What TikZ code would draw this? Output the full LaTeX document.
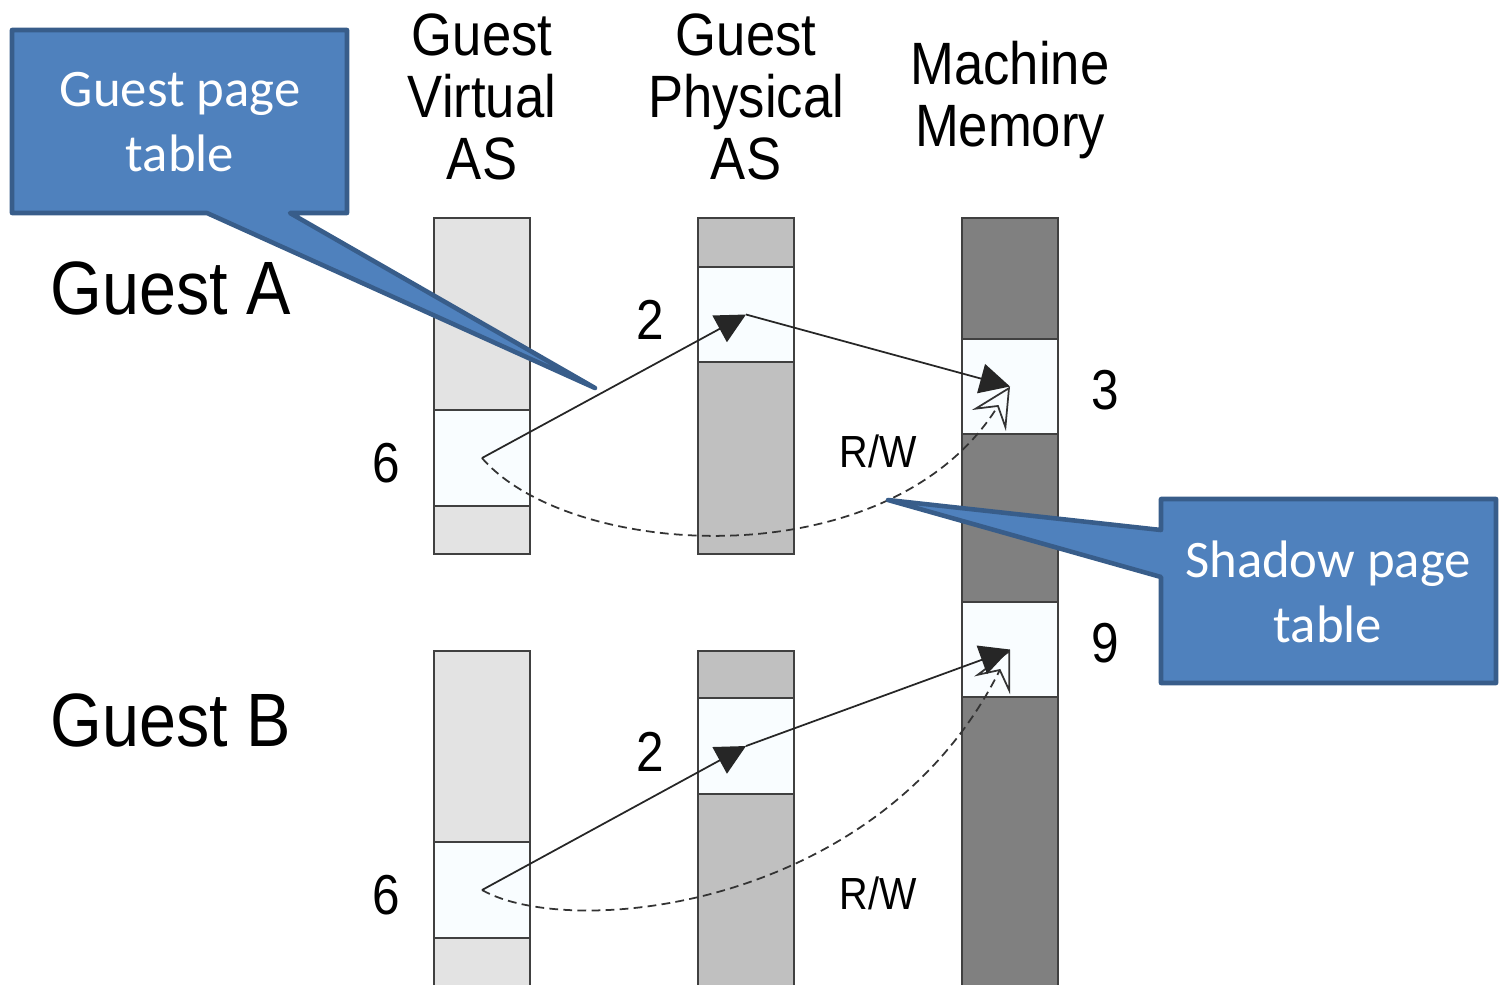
\documentclass[tikz,border=0pt]{standalone}
\usepackage{fontspec}
\setmainfont{Liberation Sans}[FakeStretch=0.88]
\newfontfamily\calloutfont{Carlito}
\usepackage{xcolor}
\usetikzlibrary{arrows.meta}

\definecolor{vcol}{HTML}{E3E3E3}
\definecolor{pcol}{HTML}{C0C0C0}
\definecolor{mcol}{HTML}{808080}
\definecolor{pagewhite}{HTML}{F9FDFF}
\definecolor{callfill}{HTML}{4F81BD}
\definecolor{callline}{HTML}{385D8A}

\tikzset{
  colbox/.style={draw=black!75, line width=0.6pt},
  page/.style={draw=black!75, line width=0.6pt, fill=pagewhite, minimum width=0.96cm, minimum height=0.96cm, inner sep=0pt},
  head/.style={font=\fontsize{17}{17.6}\selectfont, align=center},
  guest/.style={font=\fontsize{21.5}{24}\selectfont},
  num/.style={font=\fontsize{16}{18}\selectfont},
  rw/.style={font=\fontsize{12.8}{14}\selectfont},
  conn/.style={line width=0.5pt, black!85, -{Triangle[length=3mm, width=3mm]}},
  shadowconn/.style={line width=0.5pt, black!80, dash pattern=on 2.5pt off 1.5pt, -{Stealth[open, length=4mm, width=4mm, inset=1.6mm]}},
  callout/.style={draw=callline, fill=callfill, line width=1.3pt, line join=round},
  callouttext/.style={text=white, align=center, font=\calloutfont\fontsize{15}{18.5}\selectfont}
}

\begin{document}
\begin{tikzpicture}[x=0.01cm, y=-0.01cm]
  \useasboundingbox (0,0) rectangle (1501,984);
  \clip (0,0) rectangle (1501,984);

  % headers
  \node[head] (hva) at (482,97) {Guest\\Virtual\\AS};
  \node[head] (hpa) at (746,97) {Guest\\Physical\\AS};
  \node[head] (hmm) at (1010,100) {Machine\\Memory};

  \node[guest] (ga) at (171,288) {Guest A};
  \node[guest] (gb) at (171,720) {Guest B};

  % guest A columns
  \draw[colbox, fill=vcol] (434,218) rectangle (530,554);
  \draw[colbox, fill=pcol] (698,218) rectangle (794,554);
  % machine memory
  \draw[colbox, fill=mcol] (962,218) rectangle (1058,995);
  % guest B columns
  \draw[colbox, fill=vcol] (434,651) rectangle (530,995);
  \draw[colbox, fill=pcol] (698,651) rectangle (794,995);

  % pages
  \node[page] (va6) at (482,458) {};
  \node[page, minimum height=0.95cm] (pa2) at (746,314.5) {};
  \node[page, minimum height=0.95cm] (mm3) at (1010,386.5) {};
  \node[page, minimum height=0.95cm] (mm9) at (1010,649.5) {};
  \node[page] (vb6) at (482,890) {};
  \node[page] (pb2) at (746,746) {};

  % page numbers
  \node[num] (na6) at (386,463) {6};
  \node[num] (na2) at (650,320) {2};
  \node[num] (n3) at (1105,390) {3};
  \node[num] (n9) at (1105,643) {9};
  \node[num] (nb6) at (386,895) {6};
  \node[num] (nb2) at (650,752) {2};

  \node[rw] (rwa) at (878,451) {R/W};
  \node[rw] (rwb) at (878,893) {R/W};

  % shadow mappings
  \draw[shadowconn] (va6.center) .. controls (570,560) and (890,580) .. (mm3.center);
  \draw[shadowconn] (vb6.center) .. controls (570,940) and (880,910) .. (mm9.center);

  % guest mappings
  \draw[conn] (va6.center) -- (pa2.center);
  \draw[conn] (pa2.center) -- (mm3.center);
  \draw[conn] (vb6.center) -- (pb2.center);
  \draw[conn] (pb2.center) -- (mm9.center);

  % callouts
  \draw[callout] (12,30) -- (347,30) -- (347,213) -- (290,213) -- (595,388) -- (207,213) -- (12,213) -- cycle;
  \node[callouttext] (gpt) at (180,122) {Guest page\\table};

  \draw[callout] (1161,499) -- (1496,499) -- (1496,683) -- (1161,683) -- (1161,577) -- (888,500) -- (1161,530) -- cycle;
  \node[callouttext] (spt) at (1328,592) {Shadow page\\table};
\end{tikzpicture}
\end{document}
